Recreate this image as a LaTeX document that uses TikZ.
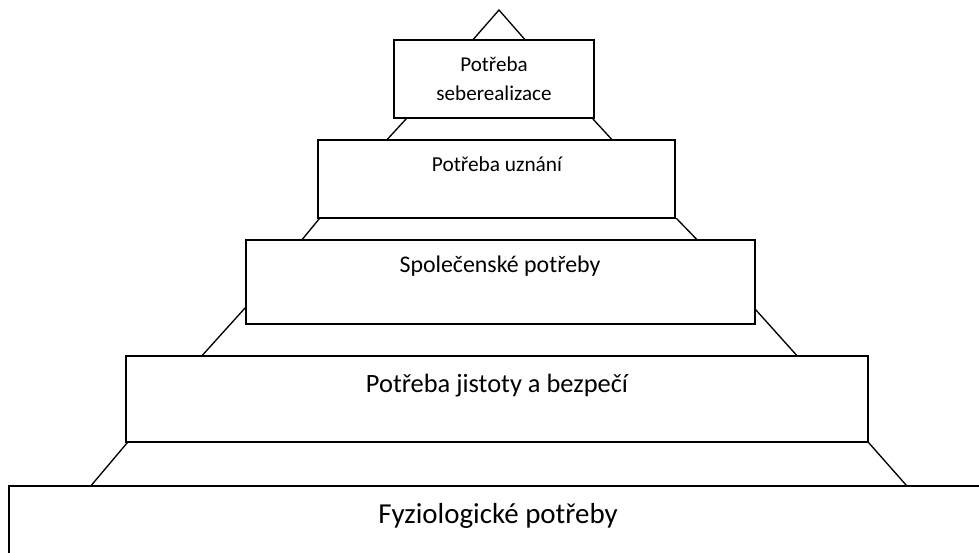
\documentclass[tikz,border=0pt]{standalone}
\usepackage{fontspec}
\setmainfont{Carlito}
\usetikzlibrary{fit,calc}
\begin{document}
\begin{tikzpicture}[x=0.75pt,y=-0.75pt,
  level/.style={draw=black,line width=1pt,fill=white,inner sep=0pt},
  edge/.style={draw=black,line width=1pt,line cap=round},
  lbl/.style={anchor=base,inner sep=0pt,align=center,text=black}]
\useasboundingbox (0,0) rectangle (979,553);
\clip (0,0) rectangle (979,553);

% pyramid tip
\coordinate (apex) at (499,10);

% levels, from the top down
\node[level,fit={(394,40) (594,118)}] (b1) {};
\node[level,fit={(318,140) (675,218)}] (b2) {};
\node[level,fit={(246,240) (755,324)}] (b3) {};
\node[level,fit={(126,356) (868,442)}] (b4) {};
\node[level,fit={(9,486) (1000,600)}] (b5) {};

% slanted sides of the pyramid between the levels
\draw[edge] ($(b1.north west)+(80,0)$) -- (apex) -- ($(b1.north east)+(-70,0)$);
\draw[edge] ($(b1.south west)+(13,0)$) -- ($(b2.north west)+(70,0)$);
\draw[edge] ($(b1.south east)+(-2,0)$) -- ($(b2.north east)+(-64,0)$);
\draw[edge] ($(b2.south west)+(2,0)$) -- ($(b3.north west)+(57,0)$);
\draw[edge] ($(b2.south east)+(1,0)$) -- ($(b3.north east)+(-59,0)$);
\draw[edge] ($(b3.south west)+(0,-17)$) -- ($(b4.north west)+(77,0)$);
\draw[edge] ($(b3.south east)+(0,-15)$) -- ($(b4.north east)+(-72,0)$);
\draw[edge] ($(b4.south west)+(2,0)$) -- ($(b5.north west)+(83,0)$);
\draw[edge] ($(b4.south east)+(0,0)$) -- ($(b5.north west)+(898,0)$);

% labels (a two-line label sits on the baseline of its last line)
\node[lbl,font=\fontsize{15.8}{21.75}\selectfont] (t1) at (494,100) {Potřeba\\seberealizace};
\node[lbl,font=\fontsize{16}{19}\selectfont] (t2) at (497,171) {Potřeba uznání};
\node[lbl,font=\fontsize{17.9}{21}\selectfont] (t3) at (500,272) {Společenské potřeby};
\node[lbl,font=\fontsize{19.8}{23}\selectfont] (t4) at (497,392) {Potřeba jistoty a bezpečí};
\node[lbl,font=\fontsize{21.7}{25}\selectfont] (t5) at (498,523) {Fyziologické potřeby};
\end{tikzpicture}
\end{document}
